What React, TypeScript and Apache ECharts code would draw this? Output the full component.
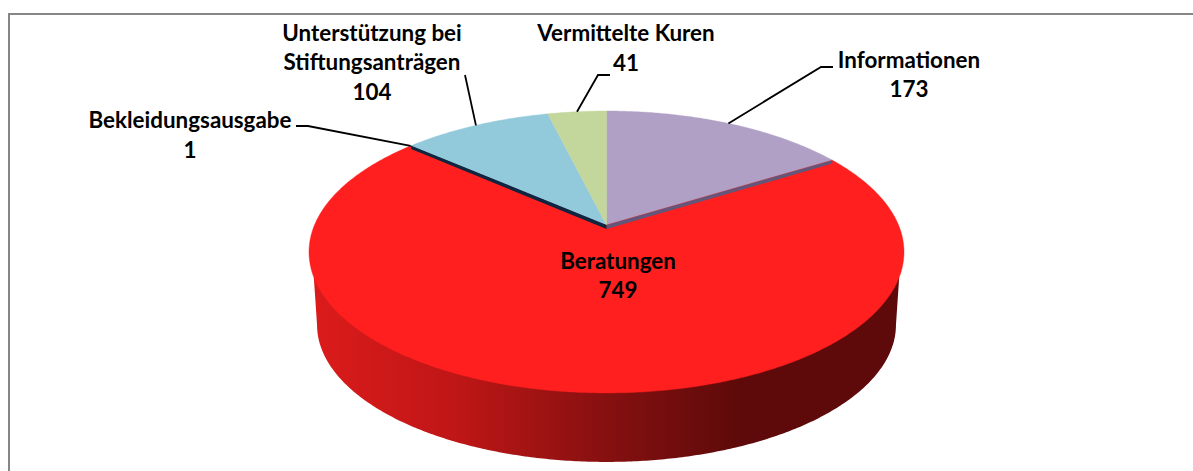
import React, { useEffect, useRef } from "react";
import * as echarts from "echarts";

const categories = ["Informationen", "Beratungen", "Bekleidungsausgabe", "Unterstützung bei\nStiftungsanträgen", "Vermittelte Kuren"];
const values = [173, 749, 1, 104, 41];
const total = values.reduce((a, b) => a + b, 0);

const sliceColors = ["#B0A0C6", "#FF1F1F", "#10253F", "#92C9DB", "#C3D69B"];
const edgeColors = ["#64567A", null, "#10253F", null, null];

// label centre (first line) and leader elbows, per category
const labelPos = [
  { x: 909, y: 59 },
  { x: 618, y: 260 },
  { x: 190, y: 119.5 },
  { x: 372, y: 32 },
  { x: 626, y: 32.5 },
];
const leaders: number[][][] = [
  [[821, 67], [833, 67]],
  [],
  [[308, 126], [296, 126]],
  [[465, 75]],
  [[598, 75], [610, 75]],
];
const LINE_H = 29.6;
const FONT = 'bold 22.4px Lato, Carlito, "Open Sans", sans-serif';

// perspective projection of the pie disc
const APEX = { x: 606.5, y: 225 };
const K = 0.1915;
const A = 135.8;
const B = 292;
const project = (thetaDeg: number, scale = 1, dy = 0) => {
  const t = (thetaDeg * Math.PI) / 180;
  const u = Math.sin(t);
  const v = -Math.cos(t);
  const w = 1 - K * v;
  return [APEX.x + (scale * B * u) / w, APEX.y + dy + (scale * A * v) / w];
};
const arc = (from: number, to: number, scale = 1, dy = 0) => {
  const n = Math.max(1, Math.ceil(Math.abs(to - from) * 2));
  const out: number[][] = [];
  for (let i = 0; i <= n; i++) out.push(project(from + ((to - from) * i) / n, scale, dy));
  return out;
};

const angleAt = (idx: number) => (values.slice(0, idx).reduce((a, b) => a + b, 0) / total) * 360;

const wallFill = new echarts.graphic.LinearGradient(
  312, 0, 900, 0,
  [
    { offset: 0, color: "#DC1B1B" },
    { offset: 0.25, color: "#BE1616" },
    { offset: 0.5, color: "#861010" },
    { offset: 0.72, color: "#5F0A0A" },
    { offset: 1, color: "#5F0A0A" },
  ],
  true
);

const renderItem = (params: any) => {
  const i = params.dataIndex;
  const start = angleAt(i);
  const end = angleAt(i + 1);
  const mid = (start + end) / 2;
  const children: any[] = [];

  if (i === 1) {
    const wall = [
      project(111),
      ...arc(101, 259, 0.973, 73.5),
      project(249),
    ];
    children.push({ type: "polygon", z2: 0, shape: { points: wall }, style: { fill: wallFill } });
  }

  children.push({
    type: "polygon",
    z2: 1,
    shape: { points: [[APEX.x, APEX.y], ...arc(start, end)] },
    style: { fill: sliceColors[i], stroke: sliceColors[i], lineWidth: 0.4 },
  });

  const edge = edgeColors[i];
  if (edge) {
    const rim = project(end);
    children.push({
      type: "polygon",
      z2: 2,
      shape: {
        points: [
          [APEX.x, APEX.y],
          rim,
          [rim[0], rim[1] + 3.4],
          [APEX.x, APEX.y + 4],
        ],
      },
      style: { fill: edge },
    });
  }

  if (leaders[i].length) {
    children.push({
      type: "polyline",
      z2: 3,
      shape: { points: [project(mid), ...leaders[i]] },
      style: { stroke: "#000000", lineWidth: 1.8, fill: "none" },
    });
  }

  const lines = [...categories[i].split("\n"), String(values[i])];
  lines.forEach((text, n) => {
    children.push({
      type: "text",
      z2: 4,
      x: labelPos[i].x,
      y: labelPos[i].y + n * LINE_H,
      style: { text, font: FONT, fill: "#000000", align: "center", verticalAlign: "middle" },
    });
  });

  return { type: "group", children };
};

export default function App() {
  const ref = useRef<HTMLDivElement>(null);
  useEffect(() => {
    const chart = echarts.init(ref.current!, undefined, { renderer: "svg" });
    chart.setOption({
      animation: false,
      backgroundColor: "#FFFFFF",
      graphic: [
        {
          type: "polyline",
          silent: true,
          shape: { points: [[9, 471], [9, 14], [1193, 14]] },
          style: { stroke: "#868686", lineWidth: 2, fill: "none" },
        },
      ],
      series: [
        {
          type: "custom",
          coordinateSystem: "none",
          silent: true,
          renderItem,
          data: values,
        },
      ],
    });
    return () => chart.dispose();
  }, []);
  return <div ref={ref} style={{ position: "absolute", left: 0, top: 0, width: 1193, height: 471 }} />;
}
